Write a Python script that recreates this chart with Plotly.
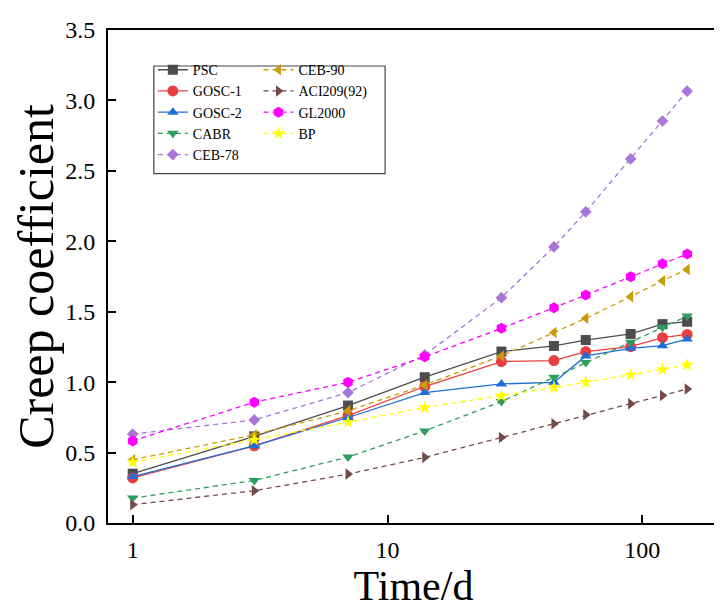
import plotly.graph_objects as go

time_d = [1, 3, 7, 14, 28, 45, 60, 90, 120, 150]

psc     = [0.35, 0.615, 0.834, 1.035, 1.217, 1.257, 1.299, 1.342, 1.412, 1.429]
gosc1   = [0.32, 0.548, 0.763, 0.969, 1.146, 1.153, 1.217, 1.252, 1.316, 1.339]
gosc2   = [0.33, 0.548, 0.749, 0.926, 0.987, 0.999, 1.186, 1.240, 1.259, 1.306]
cabr    = [0.177, 0.302, 0.468, 0.654, 0.862, 1.035, 1.139, 1.283, 1.389, 1.469]
ceb78   = [0.631, 0.732, 0.926, 1.193, 1.600, 1.961, 2.209, 2.585, 2.854, 3.066]
ceb90   = [0.449, 0.626, 0.796, 0.98, 1.186, 1.352, 1.453, 1.607, 1.72, 1.80]
aci209  = [0.130, 0.229, 0.347, 0.466, 0.607, 0.704, 0.768, 0.846, 0.905, 0.952]
gl2000  = [0.583, 0.858, 0.999, 1.18, 1.382, 1.528, 1.618, 1.748, 1.84, 1.91]
bp      = [0.432, 0.590, 0.716, 0.82, 0.902, 0.962, 0.999, 1.051, 1.091, 1.122]

series_names = ["PSC", "GOSC-1", "GOSC-2", "CABR", "CEB-78",
                "CEB-90", "ACI209(92)", "GL2000", "BP"]
series_values = [psc, gosc1, gosc2, cabr, ceb78, ceb90, aci209, gl2000, bp]

y_tick_vals = [0, 0.5, 1.0, 1.5, 2.0, 2.5, 3.0, 3.5]
y_tick_text = ["0.0", "0.5", "1.0", "1.5", "2.0", "2.5", "3.0", "3.5"]
x_tick_vals = [1, 10, 100]
x_tick_text = ["1", "10", "100"]

styles = [
    dict(color="#4d4d4d", symbol="square", size=10, dash="solid", legend="legend"),
    dict(color="#e8403f", symbol="circle", size=11, dash="solid", legend="legend"),
    dict(color="#1f6fd6", symbol="triangle-up", size=10, dash="solid", legend="legend"),
    dict(color="#2e9e5e", symbol="triangle-down", size=10, dash="5px,4px", legend="legend"),
    dict(color="#a875d8", symbol="diamond", size=9, dash="5px,4px", legend="legend"),
    dict(color="#cc9a06", symbol="triangle-left", size=10, dash="5px,4px", legend="legend2"),
    dict(color="#744b49", symbol="triangle-right", size=10, dash="5px,4px", legend="legend2"),
    dict(color="#ff00ff", symbol="hexagon", size=11, dash="5px,4px", legend="legend2"),
    dict(color="#ffff00", symbol="star", size=10, dash="5px,4px", legend="legend2"),
]

FONT = "Liberation Serif"

fig = go.Figure()
for name, vals, st in zip(series_names, series_values, styles):
    fig.add_trace(go.Scatter(
        x=time_d, y=vals, name=name, mode="lines+markers",
        line=dict(color=st["color"], width=1.3, dash=st["dash"]),
        marker=dict(color=st["color"], symbol=st["symbol"], size=st["size"],
                    line=dict(width=0)),
        legend=st["legend"],
    ))

legend_common = dict(
    font=dict(family=FONT, size=14, color="black"),
    bgcolor="rgba(0,0,0,0)", borderwidth=0,
    xanchor="left", yanchor="top", traceorder="normal",
    itemwidth=30, tracegroupgap=0,
)

fig.update_layout(
    width=722, height=615,
    margin=dict(l=100, r=9, t=21, b=100),
    plot_bgcolor="white", paper_bgcolor="white",
    font=dict(family=FONT, color="black"),
    xaxis=dict(
        type="log", range=[-0.0969, 2.301],
        tickvals=x_tick_vals, ticktext=x_tick_text,
        ticks="inside", ticklen=8, tickwidth=2, tickcolor="black",
        showline=True, linewidth=2, linecolor="black", mirror=True,
        showgrid=False, zeroline=False, ticklabelstandoff=4,
        tickfont=dict(family=FONT, size=24, color="black"),
        title=dict(text="Time/d", font=dict(family=FONT, size=42, color="black"),
                   standoff=6),
    ),
    yaxis=dict(
        range=[0, 3.5],
        tickvals=y_tick_vals, ticktext=y_tick_text,
        ticks="inside", ticklen=8, tickwidth=2, tickcolor="black",
        showline=True, linewidth=2, linecolor="black", mirror=True,
        showgrid=False, zeroline=False, ticklabelstandoff=6,
        tickfont=dict(family=FONT, size=24, color="black"),
        title=dict(text="Creep coefficient", font=dict(family=FONT, size=50, color="black"),
                   standoff=4),
    ),
    legend=dict(x=0.0734, y=0.951, **legend_common),
    legend2=dict(x=0.2463, y=0.951, **legend_common),
    shapes=[dict(type="rect", xref="paper", yref="paper",
                 x0=0.075, x1=0.4535, y0=0.7085, y1=0.927,
                 line=dict(color="#444444", width=1.2), fillcolor="rgba(0,0,0,0)")],
)

fig.write_html("out.html")
